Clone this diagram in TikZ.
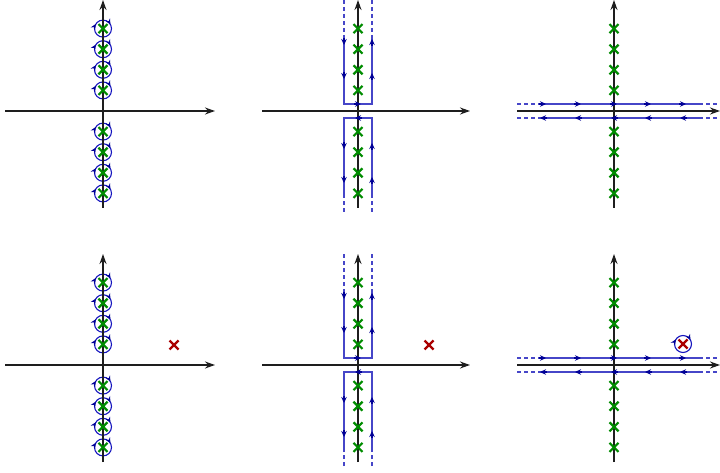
\documentclass[tikz,border=0pt]{standalone}
\usetikzlibrary{arrows.meta,decorations.markings}
\definecolor{axisgray}{RGB}{30,30,30}
\definecolor{contblue}{RGB}{70,70,200}
\definecolor{tipblue}{RGB}{0,0,150}
\definecolor{circblue}{RGB}{20,20,190}
\definecolor{polegreen}{RGB}{0,140,0}
\definecolor{polered}{RGB}{170,0,0}
\tikzset{
  axisline/.style={line width=1.4pt, draw=axisgray, -{Stealth[length=10pt,width=7pt]}},
  cont/.style={line width=1.2pt, draw=contblue},
  contdash/.style={cont, dash pattern=on 4pt off 3pt},
  tiparrow/.style={line width=1.2pt, draw=tipblue, -{Stealth[length=6pt,width=5.5pt]}},
  polecross/.style={line width=2.2pt, draw=polegreen},
  redcross/.style={line width=2.2pt, draw=polered},
  circloop/.style={line width=1.1pt, draw=circblue, postaction={decorate},
    decoration={markings,
      mark=at position 0.59 with {\arrow[tipblue]{Stealth[length=5.5pt,width=5pt]}},
      mark=at position 0.92 with {\arrow[tipblue]{Stealth[length=5.5pt,width=5pt]}}}}
}
\newcommand{\gpole}[2]{\draw[polecross] ({#1-4.5},{#2-4.5}) -- ({#1+4.5},{#2+4.5}) ({#1-4.5},{#2+4.5}) -- ({#1+4.5},{#2-4.5});}
\newcommand{\rpole}[2]{\draw[redcross] ({#1-4.5},{#2-4.5}) -- ({#1+4.5},{#2+4.5}) ({#1-4.5},{#2+4.5}) -- ({#1+4.5},{#2-4.5});}
\newcommand{\loopat}[2]{\draw[circloop] ({#1+8.5},{#2}) arc (0:360:8.5);}
\newcommand{\varrow}[3]{\draw[tiparrow] ({#1},{#2}) -- ({#1},{#3});}
\newcommand{\harrow}[3]{\draw[tiparrow] ({#2},{#1}) -- ({#3},{#1});}
\begin{document}
\begin{tikzpicture}[x=1pt,y=-1pt]
\useasboundingbox (0,0) rectangle (720,473);
\foreach \dy in {0,254}{
  % ---------- panel 1 / 4 ----------
  \begin{scope}[shift={(0,\dy)}]
    \foreach \k in {1,2,3,4}{
      \loopat{103}{111-20.6*\k}
      \loopat{103}{111+20.6*\k}
    }
    \draw[axisline] (5,111) -- (215,111);
    \draw[axisline] (103,208) -- (103,0);
    \foreach \k in {1,2,3,4}{
      \gpole{103}{111-20.6*\k}
      \gpole{103}{111+20.6*\k}
    }
  \end{scope}
  % ---------- panel 2 / 5 ----------
  \begin{scope}[shift={(0,\dy)}]
    \draw[contdash] (344,0) -- (344,38);
    \draw[contdash] (372,0) -- (372,38);
    \draw[cont] (344,38) -- (344,104) -- (372,104) -- (372,38);
    \draw[contdash] (344,212) -- (344,195);
    \draw[contdash] (372,212) -- (372,195);
    \draw[cont] (372,195) -- (372,118) -- (344,118) -- (344,195);
    \draw[axisline] (262,111) -- (470,111);
    \draw[axisline] (358,208) -- (358,0);
    \foreach \k in {1,2,3,4}{
      \gpole{358}{111-20.6*\k}
      \gpole{358}{111+20.6*\k}
    }
    \varrow{344}{38}{45}
    \varrow{344}{72}{79}
    \varrow{372}{46}{39}
    \varrow{372}{80}{73}
    \harrow{104}{354}{361}
    \harrow{118}{362}{355}
    \varrow{344}{142}{149}
    \varrow{344}{176}{183}
    \varrow{372}{150}{143}
    \varrow{372}{184}{177}
  \end{scope}
  % ---------- panel 3 / 6 ----------
  \begin{scope}[shift={(0,\dy)}]
    \draw[contdash] (517,104) -- (543,104);
    \draw[cont] (543,104) -- (699,104);
    \draw[contdash] (699,104) -- (720,104);
    \draw[contdash] (517,118) -- (543,118);
    \draw[cont] (543,118) -- (699,118);
    \draw[contdash] (699,118) -- (720,118);
    \draw[axisline] (517,111) -- (720,111);
    \draw[axisline] (614,208) -- (614,0);
    \foreach \k in {1,2,3,4}{
      \gpole{614}{111-20.6*\k}
      \gpole{614}{111+20.6*\k}
    }
    \foreach \xx in {543,578,614,648,683}{
      \harrow{104}{\xx-4}{\xx+3}
      \harrow{118}{\xx+4}{\xx-3}
    }
  \end{scope}
}
% extra poles in bottom row
\rpole{174}{345}
\rpole{429}{345}
\loopat{683}{344}
\rpole{683}{344}
\end{tikzpicture}
\end{document}
